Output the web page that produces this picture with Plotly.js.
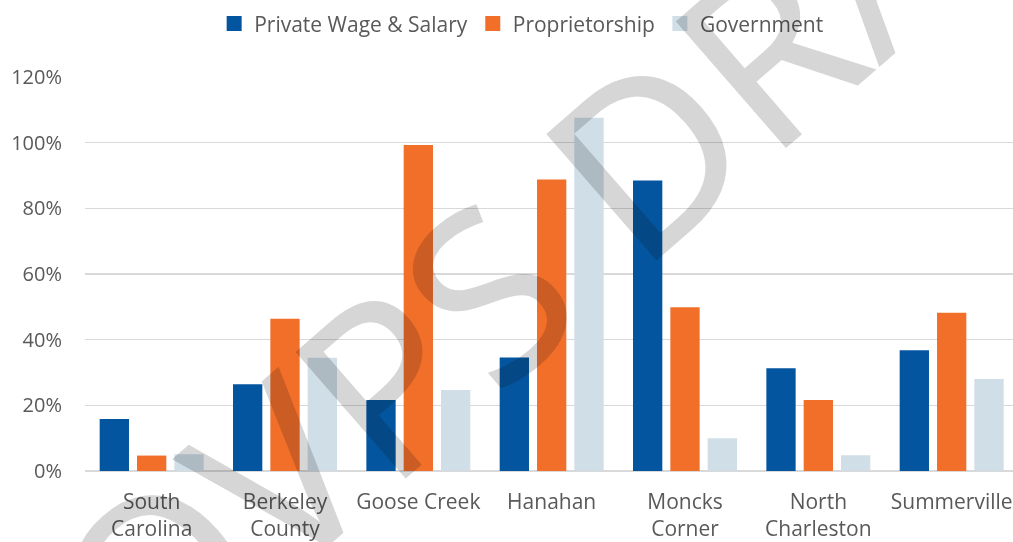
<!DOCTYPE html>
<html>
<head>
<meta charset="utf-8">
<script src="https://cdn.plot.ly/plotly-3.0.1.min.js"></script>
<style>
  html, body { margin: 0; padding: 0; background: #fff; }
  #chart { width: 1013px; height: 542px; }
  .annotation-text-g text { mix-blend-mode: multiply; }
  .annotation { mix-blend-mode: multiply; }
</style>
</head>
<body>
<div id="chart"></div>
<script>
// Categories (x tick labels)
const categories = ["South<br>Carolina", "Berkeley<br>County", "Goose Creek", "Hanahan", "Moncks<br>Corner", "North<br>Charleston", "Summerville"];

// Series values (percent)
const privateWage = [15.8, 26.4, 21.6, 34.6, 88.5, 31.3, 36.8];
const proprietorship = [4.7, 46.4, 99.3, 88.8, 49.9, 21.6, 48.2];
const government = [5.1, 34.5, 24.7, 107.6, 10.0, 4.8, 28.0];

// Series names
const seriesNames = ["Private Wage & Salary", "Proprietorship", "Government"];

// y tick values / labels
const yTickVals = [0, 20, 40, 60, 80, 100, 120];
const yTickText = ["0%", "20%", "40%", "60%", "80%", "100%", "120%"];

const watermarkText = "OVPS DRAFT";

const colors = ["#0455A0", "#F26F2A", "#D0DEE7"];
const font = "'Open Sans', 'Noto Sans', sans-serif";
const textColor = "#595959";

const seriesValues = [privateWage, proprietorship, government];
const traces = seriesValues.map((vals, i) => ({
  type: "bar",
  name: seriesNames[i],
  x: categories,
  y: vals,
  marker: { color: colors[i] },
  hoverinfo: "skip"
}));

const layout = {
  width: 1013,
  height: 542,
  margin: { l: 85, r: 0, t: 77, b: 71 },
  paper_bgcolor: "#ffffff",
  plot_bgcolor: "#ffffff",
  barmode: "group",
  bargap: 0.16,
  bargroupgap: 0.215,
  font: { family: font, size: 21, color: textColor },
  showlegend: true,
  legend: {
    orientation: "h",
    x: 0.47,
    xanchor: "center",
    y: 1.135,
    yanchor: "middle",
    font: { family: font, size: 21, color: textColor },
    traceorder: "normal"
  },
  xaxis: {
    type: "category",
    range: [-0.5, 6.46],
    showgrid: false,
    showline: false,
    zeroline: false,
    ticks: "",
    tickfont: { family: font, size: 21, color: textColor },
    ticklabelstandoff: 16
  },
  yaxis: {
    range: [0, 120],
    tickvals: yTickVals,
    ticktext: yTickText,
    showgrid: true,
    gridcolor: "#D9D9D9",
    gridwidth: 1.5,
    zeroline: true,
    zerolinecolor: "#D9D9D9",
    zerolinewidth: 1.5,
    showline: false,
    ticks: "",
    tickfont: { family: font, size: 20, color: textColor },
    ticklabelstandoff: 22
  },
  annotations: [{
    text: watermarkText,
    xref: "paper", yref: "paper",
    x: 0.560, y: 0.726,
    xanchor: "center", yanchor: "middle",
    showarrow: false,
    textangle: -41,
    font: { family: "'Noto Sans', sans-serif", size: 235, color: "#D6D6D6" }
  }]
};

Plotly.newPlot("chart", traces, layout, { staticPlot: true, displayModeBar: false }).then(gd => {
  // Enlarge legend swatches to match the reference's square markers
  gd.querySelectorAll(".legendpoints path").forEach(p => {
    p.setAttribute("d", "M7.5,7.5H-7.5V-7.5H7.5Z");
  });
});
</script>
</body>
</html>
